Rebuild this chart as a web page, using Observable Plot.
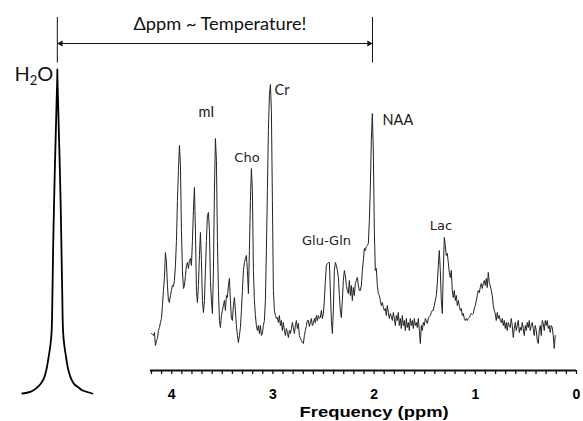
<!DOCTYPE html>
<html><head><meta charset="utf-8">
<script src="https://cdn.jsdelivr.net/npm/d3@7"></script>
<script src="https://cdn.jsdelivr.net/npm/@observablehq/plot@0.6"></script>
<style>body{margin:0;background:#fff} svg{display:block;background:#fff}</style>
</head><body><div id="chart"></div>
<script>
// ---- data (ppm = chemical shift, intensity = arbitrary units) ----
const spectrumStartPpm = 4.20;
const spectrumEndPpm = 0.21;
const spectrumIntensity = [
37,36,35,38,25,30,32,40,43,48,
52,65,80,93,118,108,85,70,68,75,
80,85,84,90,105,130,170,200,225,205,
140,100,82,85,95,105,108,102,110,112,
105,130,160,183,140,80,68,85,115,138,
110,70,58,70,100,130,155,158,140,90,
70,57,100,180,232,210,130,80,50,43,
55,60,65,70,60,75,73,85,92,70,
52,50,65,73,60,45,35,28,35,43,
60,80,100,108,112,115,100,77,120,170,
202,180,100,70,55,45,40,45,37,45,
35,37,45,50,70,120,180,240,275,286,
260,170,80,60,55,52,53,48,55,45,
50,40,48,40,35,42,38,33,40,37,
42,48,43,37,45,50,42,47,35,32,
30,28,27,35,40,45,50,50,44,48,
52,45,47,52,48,55,50,55,52,53,
60,52,57,70,90,105,107,108,108,80,
50,37,60,100,108,105,100,93,75,60,
53,70,90,100,95,85,80,77,90,75,
85,70,83,75,87,90,93,85,80,80,
85,100,110,122,120,124,125,127,150,183,
230,257,220,140,100,102,85,77,75,70,
65,68,63,60,62,55,65,58,52,57,
54,50,58,52,45,55,50,58,45,52,
42,55,45,50,40,52,43,48,40,52,
45,50,42,52,45,48,43,52,40,27,
45,40,48,45,52,50,47,52,54,55,
58,60,60,65,70,75,87,105,120,100,
70,57,100,133,125,115,117,108,98,93,
100,80,73,80,70,75,65,70,65,60,
62,55,57,52,50,52,50,52,53,55,
57,56,57,62,65,70,75,80,78,83,
87,82,87,90,85,92,83,98,88,85,
80,75,65,60,57,50,58,52,55,50,
48,52,45,50,42,48,40,48,45,43,
52,45,33,42,48,40,45,50,38,43,
40,48,42,35,45,40,48,43,50,40,
45,48,42,35,45,40,30,27,40,45,
35,50,47,40,50,45,50,42,45,38,
45,43,35,22,35
];
const waterPpm = [5.476,5.420,5.370,5.330,5.300,5.268,5.240,5.217,5.199,5.186,5.178,5.172,5.164,5.155,5.146,5.137,5.130,
                  5.123,5.114,5.105,5.096,5.089,5.082,5.074,5.061,5.043,5.020,4.990,4.960,4.920,4.880,4.784];
const waterIntensity = [-23,-22,-20,-17,-14,-9,0,13,25,40,80,120,160,200,235,270,301,
                        270,235,200,160,120,80,40,25,13,0,-9,-14,-17,-20,-23];
const xTickLabels = [4, 3, 2, 1, 0];
const xMinorTicks = [4.2,4.1,4.0,3.9,3.8,3.7,3.6,3.5,3.4,3.3,3.2,3.1,3.0,2.9,2.8,2.7,2.6,2.5,2.4,2.3,2.2,2.1,2.0,
                     1.9,1.8,1.7,1.6,1.5,1.4,1.3,1.2,1.1,1.0,0.9,0.8,0.7,0.6,0.5,0.4,0.3,0.2,0.1,0.0];
const axisTitle = "Frequency (ppm)";
const peakNames = ["mI", "Cr", "NAA"];
const peakLabelPpm = [3.735, 2.984, 1.917];
const peakLabelIntensity = [254, 276, 246];
const groupNames = ["Cho", "Glu-Gln", "Lac"];
const groupLabelPpm = [3.256, 2.470, 1.339];
const groupLabelIntensity = [208.5, 126, 141];
const waterName = "H2O";
const waterLabelPpm = 5.553, waterLabelIntensity = 290;
const deltaText = "\u0394ppm ~ Temperature!";
const waterPeakPpm = 5.130, naaPeakPpm = 2.016;
const deltaTextPpm = 3.523, deltaTextIntensity = 341;
const arrowIntensity = 327, markerLow = 307.5, markerHigh = 353;
const axisTitlePpm = 2.0, axisTitleIntensity = -46;

// ---- tables ----
const nS = spectrumIntensity.length;
const spectrum = spectrumIntensity.map((v, i) => ({
  ppm: spectrumStartPpm - i * (spectrumStartPpm - spectrumEndPpm) / (nS - 1), v
}));
const water = waterPpm.map((p, i) => ({ppm: p, v: waterIntensity[i]}));
const peaks = peakNames.map((t, i) => ({t, ppm: peakLabelPpm[i], v: peakLabelIntensity[i]}));
const groups = groupNames.map((t, i) => ({t, ppm: groupLabelPpm[i], v: groupLabelIntensity[i]}));

const calibri = "Lato, 'Open Sans', sans-serif";
const arial = "'Liberation Sans', Arial, sans-serif";

const plot = Plot.plot({
  width: 583, height: 421,
  marginTop: 0, marginRight: 0, marginBottom: 51, marginLeft: 0,
  x: {domain: [5.6917, -0.0692]},
  y: {domain: [0, 370], axis: null},
  marks: [
    Plot.ruleY([0], {x1: 4.21, x2: 0, stroke: "#111", strokeWidth: 2}),
    Plot.axisX(xMinorTicks, {tickSize: 4, tickFormat: () => "", stroke: "#111", strokeWidth: 1.3, label: null}),
    Plot.axisX(xTickLabels, {tickSize: 0, tickPadding: 19, tickFormat: d => String(d), fontSize: 14,
      fontWeight: "bold", fontFamily: arial, fill: "#000", label: null}),
    Plot.text([axisTitle], {x: () => axisTitlePpm, y: () => axisTitleIntensity, text: d => d, textAnchor: "middle", lineAnchor: "bottom",
      fontSize: 15, fontWeight: "bold", fontFamily: arial, fill: "#000"}),
    Plot.line(spectrum, {x: "ppm", y: "v", stroke: "#222", strokeWidth: 1}),
    Plot.line(water, {x: "ppm", y: "v", curve: "monotone-y", stroke: "#000", strokeWidth: 1.8}),
    Plot.ruleX([waterPeakPpm, naaPeakPpm], {x: d => d, y1: markerLow, y2: markerHigh, stroke: "#111", strokeWidth: 1}),
    Plot.link([0], {x1: () => waterPeakPpm, x2: () => naaPeakPpm, y1: () => arrowIntensity, y2: () => arrowIntensity, stroke: "#111", strokeWidth: 1}),
    Plot.dot([naaPeakPpm], {x: d => d, y: () => arrowIntensity, symbol: "triangle", rotate: 90, r: 2.3, fill: "#111", stroke: "none", dx: -3.4}),
    Plot.dot([waterPeakPpm], {x: d => d, y: () => arrowIntensity, symbol: "triangle", rotate: -90, r: 2.3, fill: "#111", stroke: "none", dx: 3.4}),
    Plot.text([deltaText], {x: () => deltaTextPpm, y: () => deltaTextIntensity, text: d => d, textAnchor: "middle", lineAnchor: "bottom",
      fontSize: 18, fontFamily: calibri, fill: "#111"}),
    Plot.text([waterName], {x: () => waterLabelPpm, y: () => waterLabelIntensity, text: d => d, textAnchor: "start", lineAnchor: "bottom",
      fontSize: 20, fontFamily: calibri, fill: "#111"}),
    Plot.text(peaks, {x: "ppm", y: "v", text: "t", textAnchor: "start", lineAnchor: "bottom",
      fontSize: 14.5, fontFamily: calibri, fill: "#1a1a1a"}),
    Plot.text(groups, {x: "ppm", y: "v", text: "t", textAnchor: "middle", lineAnchor: "bottom",
      fontSize: 13, fontFamily: "'DejaVu Sans', sans-serif", fill: "#222"})
  ]
});

// typographic touches: subscript in H2O, matched widths of stretched titles
const ns = "http://www.w3.org/2000/svg";
for (const el of plot.querySelectorAll("text")) {
  const s = el.textContent;
  if (s === waterName) {
    el.textContent = "";
    const t1 = document.createElementNS(ns, "tspan"); t1.textContent = "H";
    const t2 = document.createElementNS(ns, "tspan"); t2.textContent = "2"; t2.setAttribute("font-size", "13"); t2.setAttribute("dy", "4");
    const t3 = document.createElementNS(ns, "tspan"); t3.textContent = "O"; t3.setAttribute("dy", "-4");
    el.append(t1, t2, t3);
  } else if (s === axisTitle) {
    el.setAttribute("textLength", "149"); el.setAttribute("lengthAdjust", "spacingAndGlyphs");
  } else if (s === deltaText) {
    el.setAttribute("textLength", "173"); el.setAttribute("lengthAdjust", "spacingAndGlyphs");
  }
}

document.getElementById("chart").append(plot);
</script>
</body></html>
